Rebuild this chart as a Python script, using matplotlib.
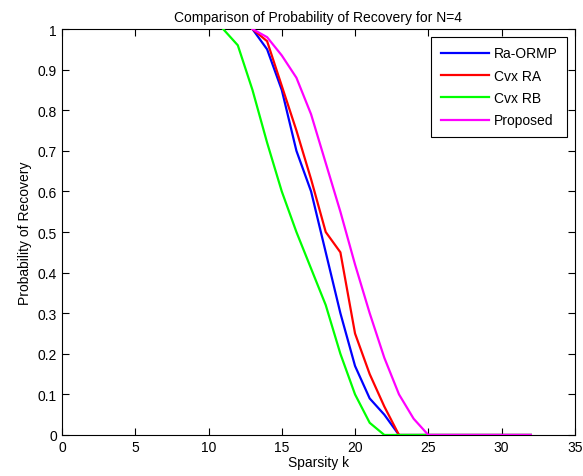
import numpy as np
import matplotlib
matplotlib.use("Agg")
import matplotlib.pyplot as plt

plt.rcParams['font.family'] = ['Liberation Sans', 'DejaVu Sans']

# sparsity values
k = list(range(11, 33))
nan = np.nan

ra_ormp = [nan, nan, 1, 0.95, 0.85, 0.70, 0.60, 0.45, 0.30, 0.17, 0.09, 0.05, 0,
           0, 0, 0, 0, 0, 0, 0, 0, 0]
cvx_ra = [nan, nan, 1, 0.97, 0.86, 0.75, 0.63, 0.50, 0.45, 0.25, 0.15, 0.07, 0,
          0, 0, 0, 0, 0, 0, 0, 0, 0]
cvx_rb = [1, 0.96, 0.85, 0.72, 0.60, 0.50, 0.41, 0.32, 0.20, 0.10, 0.03, 0, 0,
          0, 0, 0, 0, 0, 0, 0, 0, 0]
proposed = [nan, nan, 1, 0.98, 0.935, 0.88, 0.79, 0.67, 0.55, 0.42, 0.30, 0.19, 0.10,
            0.04, 0, 0, 0, 0, 0, 0, 0, 0]

series = [
    ("Ra-ORMP", ra_ormp, "#0000ff"),
    ("Cvx RA", cvx_ra, "#ff0000"),
    ("Cvx RB", cvx_rb, "#00ff00"),
    ("Proposed", proposed, "#ff00ff"),
]

fig = plt.figure(figsize=(5.83, 4.77), dpi=100)
ax = fig.add_axes([0.1063, 0.086, 0.8797, 0.851])

for name, vals, col in series:
    ax.plot(k, vals, color=col, lw=1.6, label=name, zorder=3)

ax.set_xlim(0, 35)
ax.set_ylim(0, 1)
ax.set_xticks(np.arange(0, 36, 5))
ax.set_yticks(np.arange(0, 1.01, 0.1))
ax.set_yticklabels(["0", "0.1", "0.2", "0.3", "0.4", "0.5", "0.6", "0.7", "0.8", "0.9", "1"])
ax.tick_params(direction='in', top=True, right=True, labelsize=10, length=5)

ax.set_title("Comparison of Probability of Recovery for N=4", fontsize=10)
ax.set_xlabel("Sparsity k", fontsize=10, labelpad=1)
ax.set_ylabel("Probability of Recovery", fontsize=10)

leg = ax.legend(loc='upper right', fontsize=10, fancybox=False, framealpha=1,
                edgecolor='black', borderaxespad=0.55, borderpad=0.7,
                handlelength=3.5, handletextpad=0.3, labelspacing=0.6)
leg.get_frame().set_linewidth(0.8)
leg.set_zorder(5)

fig.savefig("out.png", dpi=100)
